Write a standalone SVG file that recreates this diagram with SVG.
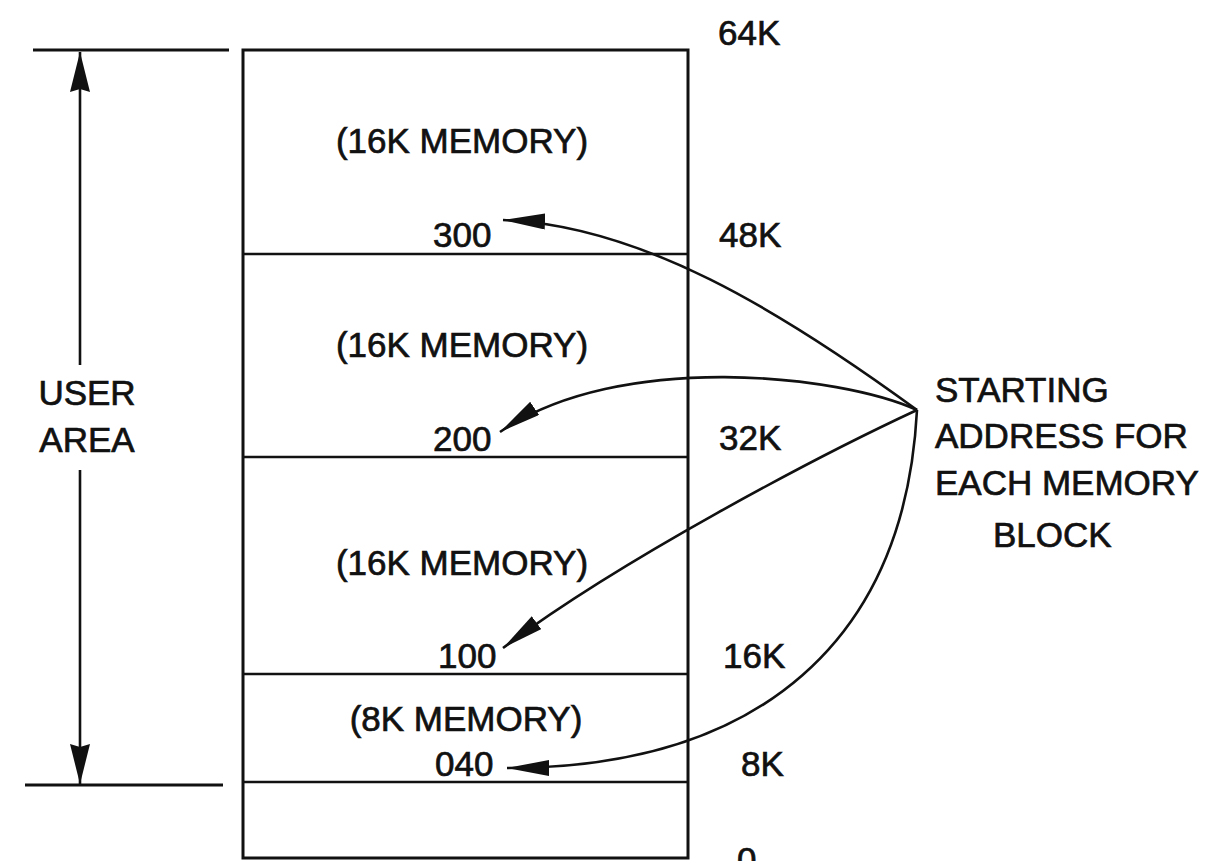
<svg xmlns="http://www.w3.org/2000/svg" width="1225" height="861" viewBox="0 0 1225 861">
  <style>
    .t { font-family: "Liberation Sans", Arial, sans-serif; font-size: 35px; fill: #111; stroke: #111; stroke-width: 0.7; }
    .m { text-anchor: middle; }
    .ln { stroke: #111; stroke-width: 2.6; fill: none; }
    .bx { stroke: #111; stroke-width: 3; fill: #fff; }
  </style>
  <defs>
    <marker id="ah" markerUnits="userSpaceOnUse" markerWidth="44" markerHeight="18" refX="42" refY="8" orient="auto" viewBox="0 0 44 18">
      <path d="M0,0 L42,8 L0,16 Z" fill="#111"/>
    </marker>
    <marker id="vh" markerUnits="userSpaceOnUse" markerWidth="42" markerHeight="22" refX="40" refY="10" orient="auto" viewBox="0 0 42 22">
      <path d="M0,0 L40,10 L0,20 L3,10 Z" fill="#111"/>
    </marker>
  </defs>

  <g id="memory-map">
    <rect class="bx" x="243" y="50" width="445" height="808"/>
    <line class="ln" x1="243" y1="254" x2="688" y2="254"/>
    <line class="ln" x1="243" y1="457" x2="688" y2="457"/>
    <line class="ln" x1="243" y1="674" x2="688" y2="674"/>
    <line class="ln" x1="243" y1="782" x2="688" y2="782"/>
  </g>

  <g id="block-48-64">
    <text class="t m" x="462" y="153">(16K MEMORY)</text>
    <text class="t" x="433" y="247">300</text>
  </g>
  <g id="block-32-48">
    <text class="t m" x="462" y="357">(16K MEMORY)</text>
    <text class="t" x="433" y="451">200</text>
  </g>
  <g id="block-16-32">
    <text class="t m" x="462" y="575">(16K MEMORY)</text>
    <text class="t" x="438" y="668">100</text>
  </g>
  <g id="block-8-16">
    <text class="t m" x="466" y="731">(8K MEMORY)</text>
    <text class="t" x="435" y="776">040</text>
  </g>

  <g id="address-labels">
    <text class="t" x="718" y="45">64K</text>
    <text class="t" x="719" y="247">48K</text>
    <text class="t" x="719" y="450">32K</text>
    <text class="t" x="723" y="668">16K</text>
    <text class="t" x="741" y="776">8K</text>
    <text class="t" x="737" y="872">0</text>
  </g>

  <g id="user-area">
    <line class="ln" x1="33" y1="50" x2="229" y2="50" style="stroke-width:3"/>
    <line class="ln" x1="25" y1="785" x2="223" y2="785" style="stroke-width:3"/>
    <text class="t m" x="87" y="405">USER</text>
    <text class="t m" x="87" y="452">AREA</text>
  </g>

  <g id="starting-address">
    <text class="t" x="935" y="402">STARTING</text>
    <text class="t" x="935" y="448">ADDRESS FOR</text>
    <text class="t" x="935" y="495">EACH MEMORY</text>
    <text class="t" x="993" y="547">BLOCK</text>
  </g>

  <g id="connectors">
    <line class="ln" x1="80" y1="365" x2="80" y2="52" marker-end="url(#vh)"/>
    <line class="ln" x1="80" y1="470" x2="80" y2="784" marker-end="url(#vh)"/>
    <path class="ln" d="M917,410 C780,310 640,225 503,220" marker-end="url(#ah)"/>
    <path class="ln" d="M917,410 C840,375 620,350 500,432" marker-end="url(#ah)"/>
    <path class="ln" d="M917,410 C820,455 620,560 503,648" marker-end="url(#ah)"/>
    <path class="ln" d="M917,410 C905,640 760,768 507,768" marker-end="url(#ah)"/>
  </g>
</svg>
